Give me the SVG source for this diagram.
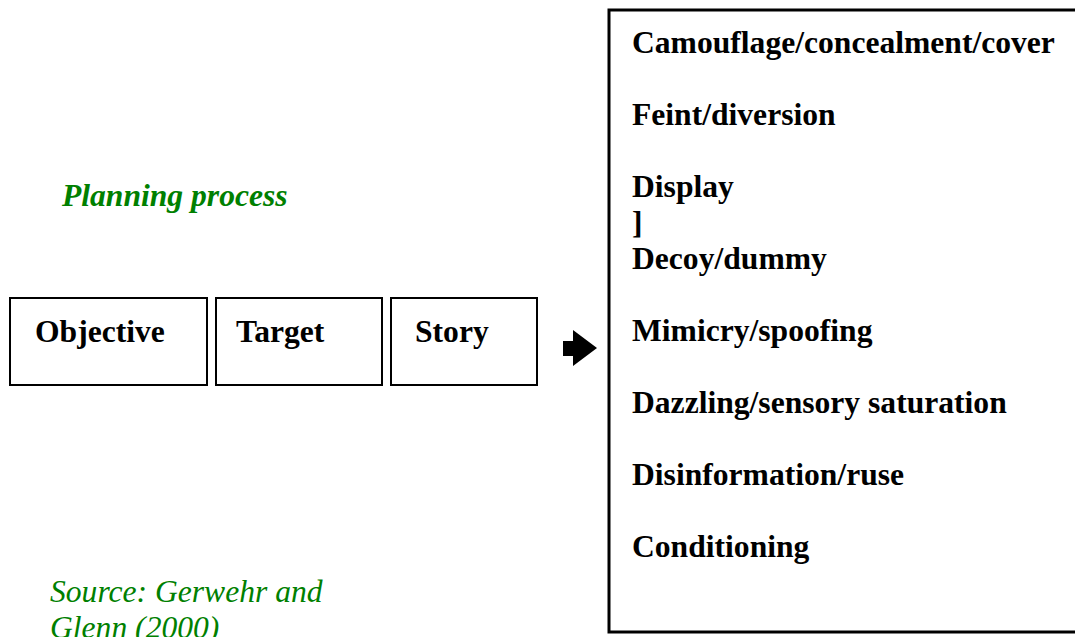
<svg xmlns="http://www.w3.org/2000/svg" width="1075" height="637" viewBox="0 0 1075 637">
<style>
.box{fill:#fff;stroke:#000;stroke-width:2}
.big{fill:#fff;stroke:#000;stroke-width:3}
.t{font-family:"Liberation Serif","Times New Roman",serif;font-weight:bold;font-size:31.6px;fill:#000}
.g{font-family:"Liberation Serif","Times New Roman",serif;font-style:italic;font-size:31.6px;fill:#008000}
</style>
<rect width="1075" height="637" fill="#fff"/>
<g id="planning-label"><text class="g" x="62" y="206" font-weight="bold">Planning process</text></g>
<g id="objective"><rect class="box" x="10" y="298" width="197" height="87"/><text class="t" x="35" y="342">Objective</text></g>
<g id="target"><rect class="box" x="216" y="298" width="166" height="87"/><text class="t" x="236" y="342">Target</text></g>
<g id="story"><rect class="box" x="391" y="298" width="146" height="87"/><text class="t" x="415" y="342">Story</text></g>
<g id="connectors"><path d="M563 341 H573 V330 L597 348 L573 366 V356 H563 Z" fill="#000"/></g>
<g id="techniques">
<rect class="big" x="609" y="10" width="480" height="622"/>
<text class="t" x="632" y="53">Camouflage/concealment/cover</text>
<text class="t" x="632" y="125">Feint/diversion</text>
<text class="t" x="632" y="197">Display</text>
<text class="t" x="632" y="233">]</text>
<text class="t" x="632" y="269">Decoy/dummy</text>
<text class="t" x="632" y="341">Mimicry/spoofing</text>
<text class="t" x="632" y="413">Dazzling/sensory saturation</text>
<text class="t" x="632" y="485">Disinformation/ruse</text>
<text class="t" x="632" y="557">Conditioning</text>
</g>
<g id="source"><text class="g" x="50" y="602" font-size="32.3">Source: Gerwehr and</text><text class="g" x="50" y="638" font-size="32.3">Glenn (2000)</text></g>
</svg>
